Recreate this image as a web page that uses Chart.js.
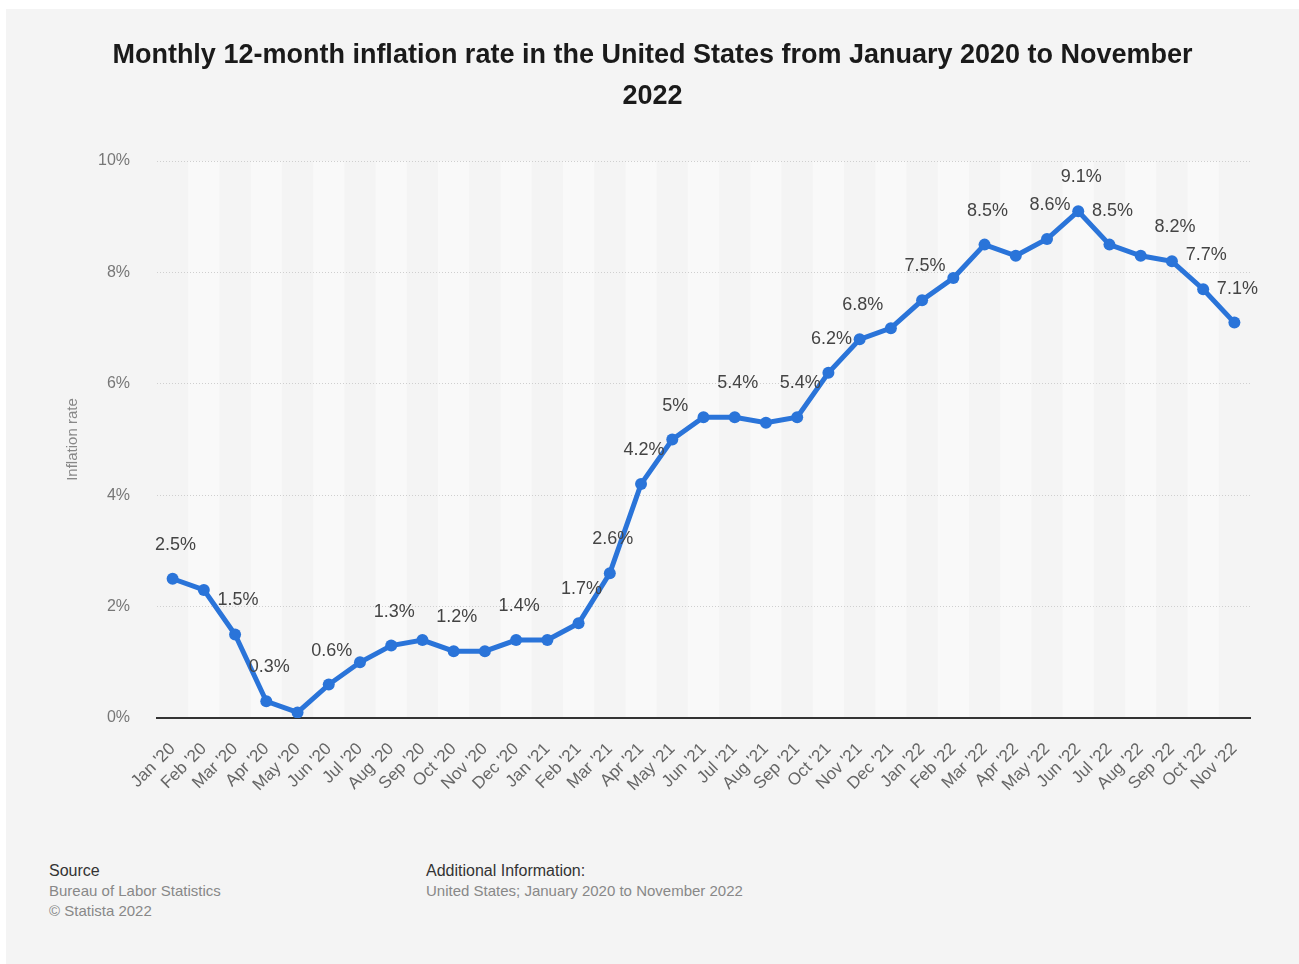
<!DOCTYPE html>
<html>
<head>
<meta charset="utf-8">
<script src="https://cdn.jsdelivr.net/npm/chart.js@4.4.0/dist/chart.umd.min.js"></script>
<style>
  body { margin: 0; background: #fff; font-family: "Liberation Sans", Arial, sans-serif; }
  #card { position: absolute; left: 6px; top: 9px; width: 1293px; height: 955px; background: #f4f4f4; }
  #wrap { position: absolute; left: 0; top: 0; width: 1293px; height: 840px; }
  .foot { position: absolute; font-size: 15px; line-height: 20px; color: #888; }
  .foot b { font-weight: normal; color: #333; font-size: 16px; }
</style>
</head>
<body>
<div id="card">
  <div id="wrap"><canvas id="inflationChart"></canvas></div>
  <div class="foot" style="left:43px; top:852px;"><b>Source</b><br>Bureau of Labor Statistics<br>© Statista 2022</div>
  <div class="foot" style="left:420px; top:852px;"><b>Additional Information:</b><br>United States; January 2020 to November 2022</div>
</div>
<script>
const months = [
  "Jan '20", "Feb '20", "Mar '20", "Apr '20", "May '20", "Jun '20", "Jul '20", "Aug '20", "Sep '20", "Oct '20", "Nov '20", "Dec '20",
  "Jan '21", "Feb '21", "Mar '21", "Apr '21", "May '21", "Jun '21", "Jul '21", "Aug '21", "Sep '21", "Oct '21", "Nov '21", "Dec '21",
  "Jan '22", "Feb '22", "Mar '22", "Apr '22", "May '22", "Jun '22", "Jul '22", "Aug '22", "Sep '22", "Oct '22", "Nov '22"
];
const inflationRate = [
  2.5, 2.3, 1.5, 0.3, 0.1, 0.6, 1.0, 1.3, 1.4, 1.2, 1.2, 1.4,
  1.4, 1.7, 2.6, 4.2, 5.0, 5.4, 5.4, 5.3, 5.4, 6.2, 6.8, 7.0,
  7.5, 7.9, 8.5, 8.3, 8.6, 9.1, 8.5, 8.3, 8.2, 7.7, 7.1
];
// months whose value is printed above the point
const labelledMonths = [
  "Jan '20", "Mar '20", "Apr '20", "Jun '20", "Aug '20", "Oct '20", "Dec '20",
  "Feb '21", "Mar '21", "Apr '21", "May '21", "Jul '21", "Sep '21", "Oct '21", "Nov '21",
  "Jan '22", "Mar '22", "May '22", "Jun '22", "Jul '22", "Sep '22", "Oct '22", "Nov '22"
];
const yTicks = [0, 2, 4, 6, 8, 10];

const titleLines = [
  'Monthly 12-month inflation rate in the United States from January 2020 to November',
  '2022'
];

// light stripes behind every other month
const stripes = {
  id: 'stripes',
  beforeDraw(chart) {
    const { ctx, chartArea, scales } = chart;
    const x = scales.x;
    const w = x.getPixelForValue(1) - x.getPixelForValue(0);
    ctx.save();
    ctx.fillStyle = '#f9f9f9';
    months.forEach((m, i) => {
      if (i % 2 === 1) {
        const cx = x.getPixelForValue(i);
        ctx.fillRect(cx - w / 2, chartArea.top, w, chartArea.bottom - chartArea.top);
      }
    });
    ctx.restore();
  }
};

const valueLabels = {
  id: 'valueLabels',
  afterDatasetsDraw(chart) {
    const { ctx } = chart;
    const meta = chart.getDatasetMeta(0);
    ctx.save();
    ctx.font = '18px "Liberation Sans", Arial, sans-serif';
    ctx.fillStyle = '#444';
    ctx.textAlign = 'center';
    ctx.textBaseline = 'middle';
    meta.data.forEach((pt, i) => {
      if (labelledMonths.includes(months[i])) {
        ctx.fillText(inflationRate[i] + '%', pt.x + 3, pt.y - 34);
      }
    });
    ctx.restore();
  }
};

new Chart(document.getElementById('inflationChart'), {
  type: 'line',
  data: {
    labels: months,
    datasets: [{
      data: inflationRate,
      borderColor: '#2a74d9',
      backgroundColor: '#2a74d9',
      borderWidth: 5,
      pointRadius: 6,
      pointBorderWidth: 0,
      tension: 0
    }]
  },
  options: {
    responsive: true,
    maintainAspectRatio: false,
    animation: false,
    layout: { padding: { top: 0, right: 49, bottom: 0, left: 49 } },
    plugins: {
      legend: { display: false },
      tooltip: { enabled: false },
      title: {
        display: true,
        text: titleLines,
        color: '#1a1a1a',
        font: { family: '"Liberation Sans", Arial, sans-serif', size: 27, weight: 'bold', lineHeight: 1.52 },
        padding: { top: 26, bottom: 44 }
      }
    },
    scales: {
      x: {
        offset: true,
        grid: { display: false, drawTicks: false },
        border: { display: true, color: '#333', width: 2 },
        ticks: {
          color: '#666',
          font: { family: '"Liberation Sans", Arial, sans-serif', size: 17 },
          maxRotation: 45,
          minRotation: 45,
          autoSkip: false,
          padding: 21
        },
        afterFit(scale) { scale.height = 131; }
      },
      y: {
        min: 0,
        max: 10,
        afterBuildTicks(scale) { scale.ticks = yTicks.map(v => ({ value: v })); },
        grid: { color: '#cfcfcf', drawTicks: false, lineWidth: 1 },
        border: { display: false, dash: [1, 2] },
        ticks: {
          color: '#777',
          font: { family: '"Liberation Sans", Arial, sans-serif', size: 16 },
          padding: 27,
          callback: v => v + '%'
        },
        title: {
          display: true,
          text: 'Inflation rate',
          color: '#888',
          font: { family: '"Liberation Sans", Arial, sans-serif', size: 15 },
          padding: { top: 9, bottom: 0 }
        },
        afterFit(scale) { scale.width = 102; }
      }
    }
  },
  plugins: [stripes, valueLabels]
});
</script>
</body>
</html>
